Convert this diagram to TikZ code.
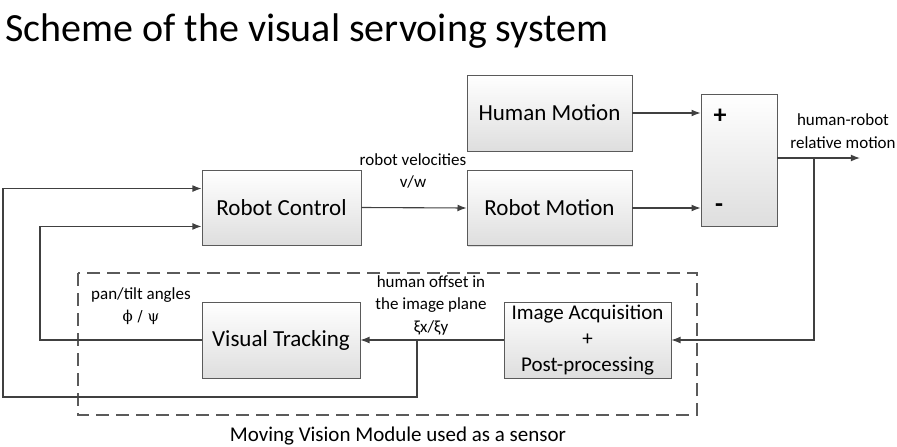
\documentclass[tikz,border=0pt]{standalone}
\usepackage{fontspec}
\setmainfont{Carlito}
\newfontfamily\greekfont{DejaVu Serif}
\usepackage{tikz}
\usetikzlibrary{
  arrows.meta,
  positioning,
  calc,
  shadows
}
\definecolor{linecolor}{RGB}{64, 64, 64}
\definecolor{boxborder}{RGB}{90, 90, 90}
\definecolor{boxbottom}{RGB}{222, 222, 222}
\definecolor{labelcolor}{RGB}{0, 0, 0}
\tikzset{
blocktext/.style={
  align=center,
  font=\fontsize{23}{28}\selectfont,
  text=labelcolor
},
block/.style={
  draw=boxborder,
  line width=0.8pt,
  top color=white,
  bottom color=boxbottom,
  drop shadow={shadow xshift=1.2pt, shadow yshift=-1.2pt, opacity=0.25},
  inner sep=2pt,
  blocktext
},
sublabel/.style={
  font=\fontsize{17}{22.5}\selectfont,
  text=labelcolor,
  align=center
},
arrow/.style={
  -{Latex[length=3.2mm,width=2.4mm]},
  line width=1.1pt,
  draw=linecolor
},
module/.style={
  draw=boxborder,
  line width=1.1pt,
  dash pattern=on 13pt off 7pt
}
}

\begin{document}
\begin{tikzpicture}[x=1pt, y=-1pt]
  \useasboundingbox (0,0) rectangle (897,447);

  \node[anchor=base west, font=\fontsize{40}{44}\selectfont, inner sep=0pt] (title) at (5,41) {Scheme of the visual servoing system};

  % blocks
  \node[block, minimum width=159pt, minimum height=75pt] (rc) at (281.5,207.5) {Robot Control};
  \node[block, minimum width=165pt, minimum height=76pt] (hm) at (549.5,113) {Human Motion};
  \node[block, minimum width=165pt, minimum height=75pt] (rm) at (549.5,208) {Robot Motion};
  \node[block, minimum width=76pt, minimum height=132pt] (sum) at (739,160) {};
  \node[font=\fontsize{26}{26}\selectfont\bfseries] (plus) at (720,116) {+};
  \node[font=\fontsize{26}{26}\selectfont\bfseries] (minus) at (719,208) {-};
  \node[block, minimum width=167pt, minimum height=76pt, font=\fontsize{21}{26}\selectfont] (ia) at (587.5,340) {Image Acquisition\\+\\Post-processing};
  \node[block, minimum width=158pt, minimum height=76pt] (vt) at (281,340) {Visual Tracking};

  % moving vision module
  \draw[module] (78,273) rectangle (697,415);
  \node[font=\fontsize{21}{24}\selectfont] (mvm) at (398,436) {Moving Vision Module used as a sensor};

  % labels
  \node[sublabel] (vel) at (413,171) {robot velocities\\v/w};
  \node[sublabel] (rel) at (843,131) {human-robot\\relative motion};
  \node[sublabel] (ang) at (141,306) {pan/tilt angles\\{\greekfont\fontsize{15}{22.5}\selectfont ϕ / ψ}};
  \node[sublabel] (off) at (431,305) {human offset in\\the image plane\\ξx/ξy};

  % junctions
  \coordinate (out) at (860,158);
  \coordinate (split1) at (814,158);
  \coordinate (split2) at (417,340);
  \coordinate (rcin1) at ($(rc.north west)!0.25!(rc.south west)$);
  \coordinate (rcin2) at ($(rc.north west)!0.75!(rc.south west)$);

  % connectors
  \draw[arrow] (hm.east) -- (sum.west |- hm.east);
  \draw[arrow] (rm.east) -- (sum.west |- rm.east);
  \draw[arrow] (rc.east) -- (rm.west);
  \draw[arrow] (sum.east |- out) -- (out);
  \draw[arrow] (split1) |- (ia.east);
  \draw[arrow] (ia.west) -- (vt.east);
  \draw[arrow] (split2) |- (3,397) |- (rcin1);
  \draw[arrow] (vt.west) -- (40,340) |- (rcin2);
\end{tikzpicture}
\end{document}
